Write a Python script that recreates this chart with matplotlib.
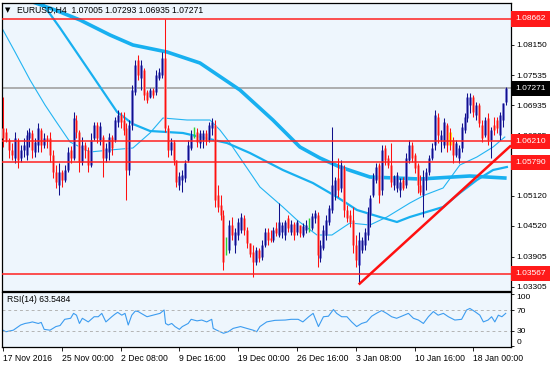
import numpy as np
import matplotlib.pyplot as plt
from matplotlib import transforms

plt.rcParams['font.family'] = ['Liberation Sans', 'DejaVu Sans']
plt.rcParams['font.size'] = 6

# EURUSD H4 candles (open, high, low, close)
opens = [
    1.0648, 1.0640, 1.0624, 1.0604, 1.0588, 1.0624, 1.0588, 1.0604, 1.0594, 1.0628,
    1.0638, 1.0600, 1.0614, 1.0644, 1.0614, 1.0628, 1.0628, 1.0594, 1.0560, 1.0534,
    1.0560, 1.0544, 1.0564, 1.0604, 1.0588, 1.0664, 1.0640, 1.0580, 1.0614, 1.0604,
    1.0574, 1.0628, 1.0654, 1.0624, 1.0630, 1.0588, 1.0600, 1.0630, 1.0624, 1.0660,
    1.0674, 1.0664, 1.0648, 1.0564, 1.0654, 1.0720, 1.0784, 1.0748, 1.0764, 1.0720,
    1.0710, 1.0724, 1.0720, 1.0748, 1.0754, 1.0788, 1.0648, 1.0604, 1.0620, 1.0584,
    1.0534, 1.0544, 1.0548, 1.0584, 1.0608, 1.0638, 1.0640, 1.0618, 1.0624, 1.0638,
    1.0624, 1.0648, 1.0654, 1.0514, 1.0494, 1.0474, 1.0414, 1.0404, 1.0454, 1.0414,
    1.0434, 1.0444, 1.0468, 1.0444, 1.0418, 1.0400, 1.0380, 1.0404, 1.0390, 1.0414,
    1.0440, 1.0428, 1.0424, 1.0448, 1.0434, 1.0440, 1.0434, 1.0468, 1.0440, 1.0456,
    1.0440, 1.0454, 1.0434, 1.0444, 1.0454, 1.0448, 1.0468, 1.0474, 1.0388, 1.0408,
    1.0434, 1.0460, 1.0484, 1.0514, 1.0548, 1.0528, 1.0568, 1.0484, 1.0474, 1.0464,
    1.0414, 1.0374, 1.0404, 1.0414, 1.0434, 1.0474, 1.0514, 1.0544, 1.0574, 1.0524,
    1.0608, 1.0588, 1.0574, 1.0534, 1.0528, 1.0524, 1.0544, 1.0534, 1.0584, 1.0614,
    1.0594, 1.0574, 1.0534, 1.0514, 1.0544, 1.0560, 1.0588, 1.0614, 1.0670, 1.0624,
    1.0614, 1.0654, 1.0634, 1.0624, 1.0594, 1.0588, 1.0608, 1.0644, 1.0668, 1.0694,
    1.0710, 1.0674, 1.0694, 1.0654, 1.0634, 1.0668, 1.0624, 1.0654, 1.0664, 1.0634,
    1.0664, 1.07005,
]
highs = [
    1.0710, 1.0648, 1.0628, 1.0618, 1.0640, 1.0628, 1.0614, 1.0628, 1.0644, 1.0648,
    1.0644, 1.0628, 1.0658, 1.0648, 1.0638, 1.0634, 1.0640, 1.0604, 1.0574, 1.0578,
    1.0564, 1.0574, 1.0610, 1.0612, 1.0680, 1.0674, 1.0644, 1.0630, 1.0620, 1.0610,
    1.0638, 1.0660, 1.0660, 1.0660, 1.0634, 1.0618, 1.0638, 1.0634, 1.0670, 1.0684,
    1.0680, 1.0680, 1.0658, 1.0664, 1.0734, 1.0784, 1.0794, 1.0784, 1.0768, 1.0724,
    1.0728, 1.0728, 1.0764, 1.0768, 1.0800, 1.0866, 1.0654, 1.0628, 1.0624, 1.0584,
    1.0560, 1.0564, 1.0584, 1.0624, 1.0644, 1.0650, 1.0648, 1.0644, 1.0644, 1.0644,
    1.0660, 1.0668, 1.0664, 1.0534, 1.0514, 1.0484, 1.0430, 1.0464, 1.0470, 1.0448,
    1.0468, 1.0478, 1.0474, 1.0450, 1.0418, 1.0414, 1.0410, 1.0408, 1.0424, 1.0448,
    1.0448, 1.0444, 1.0450, 1.0460, 1.0498, 1.0460, 1.0464, 1.0474, 1.0464, 1.0460,
    1.0464, 1.0454, 1.0458, 1.0464, 1.0468, 1.0478, 1.0484, 1.0480, 1.0424, 1.0454,
    1.0474, 1.0494, 1.0650, 1.0550, 1.0588, 1.0584, 1.0574, 1.0494, 1.0484, 1.0490,
    1.0434, 1.0440, 1.0430, 1.0448, 1.0490, 1.0514, 1.0558, 1.0578, 1.0578, 1.0614,
    1.0614, 1.0594, 1.0618, 1.0554, 1.0560, 1.0548, 1.0550, 1.0598, 1.0624, 1.0620,
    1.0598, 1.0578, 1.0554, 1.0564, 1.0568, 1.0594, 1.0618, 1.0684, 1.0678, 1.0644,
    1.0668, 1.0658, 1.0648, 1.0630, 1.0624, 1.0614, 1.0658, 1.0678, 1.0718, 1.0718,
    1.0714, 1.0700, 1.0698, 1.0664, 1.0670, 1.0678, 1.0650, 1.0670, 1.0670, 1.0680,
    1.0698, 1.07293,
]
lows = [
    1.0610, 1.0620, 1.0588, 1.0584, 1.0578, 1.0568, 1.0580, 1.0590, 1.0584, 1.0610,
    1.0588, 1.0590, 1.0600, 1.0600, 1.0608, 1.0608, 1.0580, 1.0548, 1.0528, 1.0514,
    1.0530, 1.0540, 1.0560, 1.0578, 1.0584, 1.0628, 1.0560, 1.0574, 1.0588, 1.0560,
    1.0570, 1.0624, 1.0618, 1.0614, 1.0550, 1.0580, 1.0584, 1.0594, 1.0620, 1.0650,
    1.0648, 1.0634, 1.0504, 1.0554, 1.0644, 1.0714, 1.0744, 1.0724, 1.0704, 1.0698,
    1.0708, 1.0708, 1.0714, 1.0744, 1.0748, 1.0640, 1.0590, 1.0594, 1.0574, 1.0530,
    1.0524, 1.0520, 1.0540, 1.0580, 1.0604, 1.0628, 1.0610, 1.0608, 1.0608, 1.0614,
    1.0620, 1.0634, 1.0490, 1.0480, 1.0464, 1.0364, 1.0394, 1.0398, 1.0424, 1.0398,
    1.0424, 1.0438, 1.0434, 1.0408, 1.0390, 1.0350, 1.0374, 1.0380, 1.0384, 1.0410,
    1.0414, 1.0420, 1.0420, 1.0432, 1.0430, 1.0428, 1.0424, 1.0440, 1.0434, 1.0424,
    1.0434, 1.0430, 1.0430, 1.0438, 1.0440, 1.0444, 1.0458, 1.0370, 1.0380, 1.0404,
    1.0424, 1.0454, 1.0478, 1.0504, 1.0510, 1.0520, 1.0470, 1.0460, 1.0450, 1.0398,
    1.0370, 1.0336, 1.0398, 1.0404, 1.0424, 1.0450, 1.0510, 1.0538, 1.0498, 1.0514,
    1.0574, 1.0568, 1.0530, 1.0524, 1.0520, 1.0510, 1.0524, 1.0528, 1.0578, 1.0580,
    1.0558, 1.0518, 1.0514, 1.0470, 1.0524, 1.0554, 1.0584, 1.0604, 1.0618, 1.0600,
    1.0608, 1.0600, 1.0604, 1.0578, 1.0590, 1.0578, 1.0600, 1.0638, 1.0660, 1.0678,
    1.0670, 1.0664, 1.0650, 1.0620, 1.0630, 1.0614, 1.0588, 1.0634, 1.0638, 1.0624,
    1.0650, 1.06935,
]
closes = [
    1.0628, 1.0624, 1.0604, 1.0594, 1.0628, 1.0584, 1.0604, 1.0614, 1.0634, 1.0640,
    1.0604, 1.0620, 1.0648, 1.0614, 1.0628, 1.0624, 1.0594, 1.0560, 1.0540, 1.0560,
    1.0544, 1.0564, 1.0600, 1.0588, 1.0668, 1.0640, 1.0580, 1.0614, 1.0604, 1.0574,
    1.0624, 1.0654, 1.0628, 1.0652, 1.0588, 1.0608, 1.0630, 1.0608, 1.0664, 1.0674,
    1.0660, 1.0644, 1.0564, 1.0654, 1.0724, 1.0774, 1.0754, 1.0774, 1.0714, 1.0704,
    1.0724, 1.0714, 1.0754, 1.0760, 1.0788, 1.0648, 1.0604, 1.0620, 1.0584, 1.0540,
    1.0552, 1.0554, 1.0578, 1.0614, 1.0634, 1.0638, 1.0620, 1.0638, 1.0638, 1.0624,
    1.0654, 1.0660, 1.0504, 1.0490, 1.0474, 1.0380, 1.0414, 1.0454, 1.0434, 1.0440,
    1.0460, 1.0470, 1.0444, 1.0418, 1.0396, 1.0380, 1.0404, 1.0388, 1.0414, 1.0440,
    1.0424, 1.0424, 1.0444, 1.0438, 1.0460, 1.0454, 1.0460, 1.0448, 1.0456, 1.0434,
    1.0460, 1.0438, 1.0452, 1.0454, 1.0454, 1.0472, 1.0478, 1.0394, 1.0414, 1.0444,
    1.0464, 1.0488, 1.0534, 1.0544, 1.0524, 1.0574, 1.0484, 1.0468, 1.0460, 1.0414,
    1.0384, 1.0424, 1.0424, 1.0440, 1.0480, 1.0508, 1.0548, 1.0570, 1.0514, 1.0604,
    1.0584, 1.0574, 1.0540, 1.0548, 1.0554, 1.0540, 1.0528, 1.0588, 1.0614, 1.0588,
    1.0568, 1.0534, 1.0520, 1.0548, 1.0560, 1.0588, 1.0608, 1.0674, 1.0634, 1.0634,
    1.0660, 1.0614, 1.0620, 1.0594, 1.0618, 1.0608, 1.0650, 1.0670, 1.0710, 1.0710,
    1.0680, 1.0694, 1.0658, 1.0628, 1.0664, 1.0624, 1.0644, 1.0644, 1.0648, 1.0674,
    1.0698, 1.07271,
]
marked_bar = 152

# moving averages (bar index, price)
ma_fast_idx = [0, 4.1, 9.2, 14.3, 17.7, 22.8, 29.6, 36.4, 44.2, 50, 54.4, 62.6, 70.4,
               73.8, 77.2, 82.3, 87.4, 95.2, 100, 106.8, 111.9, 118, 124.8, 130.6,
               138.4, 143.5, 149.7, 155.4, 161.2, 166.7, 170.7]
ma_fast_val = [1.0844, 1.0800, 1.0744, 1.0694, 1.0664, 1.0620, 1.0600, 1.0604, 1.0608,
               1.0638, 1.0668, 1.0664, 1.0664, 1.0644, 1.0618, 1.0574, 1.0530, 1.0490,
               1.0464, 1.0434, 1.0434, 1.0458, 1.0454, 1.0470, 1.0498, 1.0514, 1.0528,
               1.0574, 1.0590, 1.0610, 1.0630]
ma_mid_idx = [0, 5.8, 12.6, 19.4, 28.9, 38.8, 44.2, 50, 61.2, 76.2, 84, 95.2, 105.4,
              113.6, 120.4, 128.2, 134, 138.4, 149.7, 155.4, 161.2, 166.7, 171.4]
ma_mid_val = [1.1004, 1.0954, 1.0904, 1.0848, 1.0766, 1.0680, 1.0656, 1.0642, 1.0638,
              1.0618, 1.0598, 1.0564, 1.0538, 1.0510, 1.0484, 1.0470, 1.0460, 1.0470,
              1.0490, 1.0518, 1.0544, 1.0564, 1.0570]
ma_slow_idx = [0, 9.2, 17.7, 26.2, 36.4, 44.2, 55.8, 67, 80.6, 91.8, 101, 107.8, 114.6,
               124.8, 141.8, 158.8, 170.7]
ma_slow_val = [1.0924, 1.0902, 1.0884, 1.0864, 1.0834, 1.0814, 1.0800, 1.0778, 1.0724,
               1.0664, 1.0610, 1.0588, 1.0570, 1.0550, 1.0546, 1.0552, 1.0548]

# drawn objects
levels = [1.08662, 1.06210, 1.05790, 1.03567]
last_price = 1.07271
trend_idx = [121, 172.8]
trend_val = [1.0335, 1.0613]
price_ticks = [1.08750, 1.08150, 1.07535, 1.06935, 1.06335, 1.05720, 1.05120,
               1.04520, 1.03905, 1.03305]

# RSI(14)
rsi_idx = [0, 1, 3.5, 6, 7.5, 9, 10, 12, 13, 14, 16, 18, 19.4, 21, 23, 24, 25, 26, 27,
           29, 31, 32.4, 33.6, 35, 37, 38, 39, 40.4, 41.5, 42.6, 43.8, 45, 46, 47, 49,
           51, 53.4, 54.8, 55.3, 56.2, 57.4, 58.5, 60, 61, 63, 64, 66, 67.6, 69.3, 71,
           71.5, 72.7, 75, 76.6, 78.3, 80.8, 82.9, 85.1, 86.3, 87.4, 89.7, 92.5, 96,
           98, 100.4, 102, 104, 105.5, 107.3, 109, 110.7, 112.4, 113.5, 115.2, 117,
           118.6, 120.3, 122, 123.7, 125.4, 127, 128.8, 130.5, 132.2, 133.9, 135.6,
           137.9, 139.6, 141.3, 143, 144.7, 146.4, 148, 149.8, 151.5, 153.7, 156,
           157.7, 158.8, 160.5, 162.2, 163.4, 165, 166.2, 167.3, 168.5, 169.7, 171]
rsi_val = [31, 28, 31, 41, 44, 45.5, 47, 44, 46, 32.6, 31, 38, 40, 52, 54, 63.5, 60, 44,
           54, 47, 57, 57, 63.5, 47, 57, 61.6, 65.5, 60, 63.5, 41, 60, 68, 67, 63.5, 57,
           60, 63.5, 70, 44, 41, 44, 38, 32.6, 38, 44, 52, 49, 50.6, 47, 52, 34.5, 31,
           25, 28, 34.5, 38, 34.5, 31, 28, 38, 47, 50, 50.6, 52, 52, 47, 57, 63.5, 38,
           57, 58, 71, 63.5, 57, 57, 47, 38, 44, 47, 58, 63.5, 69, 63.5, 57, 54, 58,
           63.5, 54, 50.6, 44, 57, 67, 60, 63.5, 57, 50.6, 52, 70, 73, 67, 60, 47, 50.6,
           57, 47, 60, 57, 63.5]

tick_labels = ['17 Nov 2016', '25 Nov 00:00', '2 Dec 08:00', '9 Dec 16:00',
               '19 Dec 00:00', '26 Dec 16:00', '3 Jan 08:00', '10 Jan 16:00',
               '18 Jan 00:00']
tick_pos = [0, 20, 40, 60, 80, 100, 120, 140, 160]

W, H = 550, 366
bg = '#eef6fd'

fig = plt.figure(figsize=(5.5, 3.66), dpi=100)
ax = fig.add_axes([2 / W, 1 - 290.5 / H, 509 / W, 287.5 / H])
ax_rsi = fig.add_axes([2 / W, 1 - 347 / H, 509 / W, 55 / H])

for a in (ax, ax_rsi):
    a.set_facecolor(bg)
    a.set_xlim(-0.34, 172.8)
    for s in a.spines.values():
        s.set_color('black')
        s.set_linewidth(0.9)
    a.yaxis.tick_right()
    a.tick_params(axis='y', length=2, width=0.6, pad=2, labelsize=6, direction='out')

# candles
o = np.array(opens)
h = np.array(highs)
l = np.array(lows)
c = np.array(closes)
idx = np.arange(len(c))
up = c > o
dn = c < o
eq = c == o

ax.vlines(idx[up], o[up], c[up], color='#7070d0', lw=2.0, zorder=3)
ax.vlines(idx[up], l[up], h[up], color='#10108a', lw=0.75, zorder=3.1)
ax.vlines(idx[dn], c[dn], o[dn], color='#f58888', lw=2.0, zorder=3)
ax.vlines(idx[dn], l[dn], h[dn], color='#ff1010', lw=0.75, zorder=3.1)
ax.vlines(idx[eq], l[eq], h[eq], color='#30d030', lw=1.0, zorder=3.1)
ax.vlines([marked_bar], [min(o[marked_bar], c[marked_bar]) - 0.0006],
          [max(o[marked_bar], c[marked_bar]) + 0.0006], color='#ffe81a', lw=2.2, zorder=3.05)

# moving averages
ax.plot(ma_fast_idx, ma_fast_val, color='#22b4f2', lw=0.8, zorder=2.5)
ax.plot(ma_mid_idx, ma_mid_val, color='#18b0f0', lw=1.6, zorder=2.5)
ax.plot(ma_slow_idx, ma_slow_val, color='#18b0f0', lw=2.6, zorder=2.5)

# levels, trend line, last price
ax.axhline(last_price, color='#a8a8a8', lw=1.3, zorder=1.5)
for v in levels:
    ax.axhline(v, color='#ff2020', lw=1.1, zorder=4)
ax.plot(trend_idx, trend_val, color='#ff1010', lw=1.8, zorder=4, solid_capstyle='butt')

ax.set_ylim(1.0323, 1.0898)
ax.set_yticks(price_ticks)
ax.set_yticklabels(['%.5f' % v for v in price_ticks])
ax.set_xticks([])

blend = transforms.blended_transform_factory(ax.transAxes, ax.transData)
for v in levels:
    ax.text(1.009, v, '%.5f' % v, transform=blend, color='white', fontsize=6,
            va='center', ha='left', clip_on=False, zorder=10,
            bbox=dict(boxstyle='square,pad=0.5', fc='#ff1a1a', ec='none'))
ax.text(1.009, last_price, '%.5f' % last_price, transform=blend, color='white',
        fontsize=6, va='center', ha='left', clip_on=False, zorder=10,
        bbox=dict(boxstyle='square,pad=0.5', fc='black', ec='none'))

ax.text(0.0118, 0.976, '\u25bc', transform=ax.transAxes, fontsize=5, va='center',
        ha='center', family='DejaVu Sans')
ax.text(0.0295, 0.976, 'EURUSD,H4  1.07005 1.07293 1.06935 1.07271',
        transform=ax.transAxes, fontsize=6.2, va='center', ha='left')

# RSI panel
ax_rsi.plot(rsi_idx, rsi_val, color='#3c9cf0', lw=0.8)
for lv in (30, 70):
    ax_rsi.axhline(lv, color='#b4b4b4', lw=0.7, dashes=(3, 3))
ax_rsi.set_ylim(-1.5, 104.8)
ax_rsi.set_yticks([0, 30, 70, 100])
ax_rsi.set_yticklabels(['0', '30', '70', '100'])
ylabs = ax_rsi.get_yticklabels()
ylabs[0].set_va('bottom')
ylabs[3].set_va('top')
ax_rsi.set_xticks(tick_pos)
ax_rsi.set_xticklabels(tick_labels, ha='left')
ax_rsi.tick_params(axis='x', length=3, width=0.6, pad=2, labelsize=6.2)
ax_rsi.text(0.0098, 0.855, 'RSI(14) 63.5484', transform=ax_rsi.transAxes,
            fontsize=6.2, va='center', ha='left')

fig.savefig('out.png', dpi=100)
plt.close(fig)
